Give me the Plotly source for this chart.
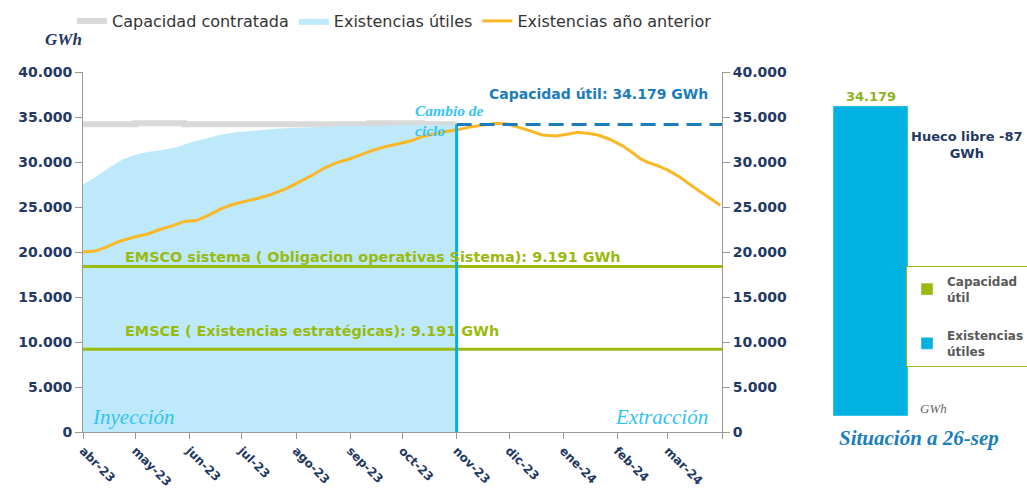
import plotly.graph_objects as go

# ---------------- data ----------------
prev_dates = ["2023-04-01","2023-04-08","2023-04-15","2023-04-22","2023-05-01","2023-05-08",
              "2023-05-15","2023-05-22","2023-05-29","2023-06-05","2023-06-12","2023-06-19",
              "2023-06-26","2023-07-03","2023-07-11","2023-07-18","2023-07-27","2023-08-03",
              "2023-08-10","2023-08-17","2023-08-24","2023-08-31","2023-09-07","2023-09-14",
              "2023-09-21","2023-09-28","2023-10-05","2023-10-12","2023-10-19","2023-10-26",
              "2023-11-02","2023-11-09","2023-11-16","2023-11-25","2023-12-01","2023-12-08",
              "2023-12-14","2023-12-20","2023-12-28","2024-01-04","2024-01-09","2024-01-15",
              "2024-01-21","2024-01-28","2024-02-04","2024-02-10","2024-02-14","2024-02-18",
              "2024-02-24","2024-03-01","2024-03-08","2024-03-15","2024-03-22","2024-03-31"]
prev_values = [20000,20100,20600,21200,21700,22000,
               22500,22900,23400,23500,24100,24800,
               25300,25600,26000,26400,27100,27800,
               28500,29300,29900,30300,30800,31300,
               31700,32000,32300,32800,33100,33400,
               33600,33900,34100,34300,34200,33800,
               33400,33000,32900,33100,33300,33200,
               33000,32500,31800,31000,30400,30000,
               29600,29100,28300,27300,26400,25200]

stock_dates = ["2023-04-01","2023-04-08","2023-04-16","2023-04-24","2023-05-01","2023-05-08",
               "2023-05-16","2023-05-24","2023-06-02","2023-06-10","2023-06-18","2023-06-28",
               "2023-07-08","2023-07-20","2023-08-01","2023-08-15","2023-09-01","2023-09-15",
               "2023-10-01","2023-10-15","2023-11-01"]
stock_values = [27500,28300,29400,30300,30800,31100,
                31300,31600,32200,32600,33000,33300,
                33500,33700,33800,33900,34000,34000,
                34100,34100,34100]

contract_dates = ["2023-04-01","2023-05-01","2023-05-29","2023-09-12","2023-10-12","2023-11-01"]
contract_values = [34200,34300,34200,34300,34200,34200]

cap_util = 34179
emsce = 9191
emsco_cum = 18382
cycle_change = "2023-11-01"
axis_start = "2023-04-01"
axis_end = "2024-04-01"

month_ticks = ["2023-04-01","2023-05-01","2023-06-01","2023-07-01","2023-08-01","2023-09-01",
               "2023-10-01","2023-11-01","2023-12-01","2024-01-01","2024-02-01","2024-03-01",
               "2024-04-01"]
month_labels = ["abr-23","may-23","jun-23","jul-23","ago-23","sep-23","oct-23","nov-23",
                "dic-23","ene-24","feb-24","mar-24",""]

y_ticks = [0,5000,10000,15000,20000,25000,30000,35000,40000]

bar_category = ["26-sep"]
bar_capacity = [34179]
bar_stock = [34266]
free_gap = -87

# ---------------- colours / fonts ----------------
NAVY = "#1f3864"
GREEN = "#9abb0e"
CYAN = "#00b2e2"
LIGHTBLUE = "#bde9fb"
ORANGE = "#fbb726"
GRAY = "#d9d9d9"
DASHBLUE = "#1b7dbd"
SANS = "DejaVu Sans"
SERIF = "Liberation Serif"

fig = go.Figure()

fig.add_trace(go.Scatter(x=contract_dates, y=contract_values, mode="lines", line_shape="hv",
                         line=dict(color=GRAY, width=6), name="Capacidad contratada"))
fig.add_trace(go.Scatter(x=stock_dates, y=stock_values, mode="lines", fill="tozeroy",
                         fillcolor=LIGHTBLUE, line=dict(color=LIGHTBLUE, width=0),
                         name="Existencias útiles"))
fig.add_trace(go.Scatter(x=prev_dates, y=prev_values, mode="lines",
                         line=dict(color=ORANGE, width=3), name="Existencias año anterior"))
fig.add_trace(go.Scatter(x=[axis_start, axis_end], y=[emsco_cum, emsco_cum], mode="lines",
                         line=dict(color=GREEN, width=3), showlegend=False, hoverinfo="skip"))
fig.add_trace(go.Scatter(x=[axis_start, axis_end], y=[emsce, emsce], mode="lines",
                         line=dict(color=GREEN, width=3), showlegend=False, hoverinfo="skip"))
fig.add_trace(go.Scatter(x=[cycle_change, cycle_change], y=[0, cap_util], mode="lines",
                         line=dict(color=CYAN, width=3), showlegend=False, hoverinfo="skip"))
fig.add_trace(go.Scatter(x=[cycle_change, axis_end], y=[cap_util, cap_util], mode="lines",
                         line=dict(color=DASHBLUE, width=3, dash="15px,8px"),
                         showlegend=False, hoverinfo="skip", yaxis="y3"))

# right-hand bar
fig.add_trace(go.Bar(x=bar_category, y=bar_capacity, marker=dict(color=GREEN), width=1,
                     name="Capacidad<br>útil", xaxis="x2", yaxis="y2", legend="legend2",
                     legendgroup="cap"))
fig.add_trace(go.Bar(x=bar_category, y=bar_stock, marker=dict(color=CYAN), width=1,
                     name="Existencias<br>útiles", xaxis="x2", yaxis="y2", legend="legend2",
                     legendgroup="stk"))

W, H = 1027, 488
def px(x):
    return x / W
def py(y):
    return 1 - y / H

tickfont = dict(family=SANS, size=14, color=NAVY, weight="bold")

fig.update_layout(
    width=W, height=H,
    margin=dict(l=0, r=0, t=0, b=0, autoexpand=False),
    paper_bgcolor="white", plot_bgcolor="white",
    separators=",.",
    barmode="overlay",
    showlegend=True,
    legend=dict(orientation="h", x=px(72), y=py(4), xanchor="left", yanchor="top",
                font=dict(family=SANS, size=16, color="#333333"),
                itemwidth=30, tracegroupgap=0, bgcolor="rgba(0,0,0,0)"),
    legend2=dict(x=px(906), y=py(266), xanchor="left", yanchor="top",
                 bordercolor=GREEN, borderwidth=1,
                 font=dict(family=SANS, size=12, color="#595959", weight="bold"),
                 itemwidth=30, tracegroupgap=20, bgcolor="white"),
    xaxis=dict(domain=[px(83), px(722)], type="date", range=[axis_start, axis_end],
               tickvals=month_ticks, ticktext=month_labels, tickangle=45,
               tickfont=dict(family=SANS, size=12, color=NAVY, weight="bold"),
               ticks="outside", ticklen=6, tickcolor="#999999",
               showline=True, linecolor="#999999", linewidth=1, showgrid=False,
               zeroline=False, automargin=False, anchor="y"),
    yaxis=dict(domain=[py(432), py(72)], range=[0, 40000], tickvals=y_ticks,
               tickformat=",.0f", tickfont=tickfont, ticks="outside", ticklen=7,
               tickcolor="#999999", showline=True, linecolor="#999999", linewidth=1,
               showgrid=False, zeroline=False, automargin=False, anchor="x"),
    yaxis3=dict(overlaying="y", side="right", range=[0, 40000], tickvals=y_ticks,
                tickformat=",.0f", tickfont=tickfont, ticks="outside", ticklen=7,
                tickcolor="#999999", showline=True, linecolor="#999999", linewidth=1,
                showgrid=False, zeroline=False, automargin=False, anchor="x"),
    xaxis2=dict(domain=[px(833), px(908)], range=[-0.5, 0.5], visible=False, anchor="y2"),
    yaxis2=dict(domain=[py(416), py(54)], range=[0, 40000], visible=False, anchor="x2"),
)

ann = []
def add(text, x, y, xref, yref, size, color, family=SANS, bold=True, italic=False,
        xanchor="left", yanchor="middle", align="left"):
    t = text
    if bold:
        t = "<b>" + t + "</b>"
    if italic:
        t = "<i>" + t + "</i>"
    ann.append(dict(text=t, x=x, y=y, xref=xref, yref=yref, showarrow=False,
                    xanchor=xanchor, yanchor=yanchor, align=align,
                    font=dict(family=family, size=size, color=color)))

add("GWh", px(43), py(40), "paper", "paper", 17, NAVY, family=SERIF, italic=True)
add("EMSCO sistema ( Obligacion operativas Sistema): 9.191 GWh", "2023-04-24", emsco_cum,
    "x", "y", 14.4, GREEN, yanchor="bottom")
ann[-1]["yshift"] = 0
add("EMSCE ( Existencias estratégicas): 9.191 GWh", "2023-04-24", emsce,
    "x", "y", 14.4, GREEN, yanchor="bottom")
ann[-1]["yshift"] = 8
add("Capacidad útil: 34.179 GWh", "2024-03-25", 37550, "x", "y", 14, DASHBLUE, xanchor="right")
add("Cambio de<br>ciclo", "2023-10-07", 36900, "x", "y", 15.5, "#35c4f2", family=SERIF,
    italic=True, yanchor="top")
add("Inyección", "2023-04-05", 1700, "x", "y", 21, "#33c3f2", family=SERIF, bold=False,
    italic=True)
add("Extracción", "2024-03-25", 1700, "x", "y", 21, "#33c3f2", family=SERIF, bold=False,
    italic=True, xanchor="right")

add("34.179", bar_category[0], bar_stock[0], "x2", "y2", 13, "#8db31e", xanchor="center",
    yanchor="bottom")
add("Hueco libre " + str(free_gap) + "<br>GWh", px(967), py(145), "paper", "paper", 13, NAVY,
    xanchor="center", align="center")
add("GWh", px(918), py(408), "paper", "paper", 13, "#666666", family=SERIF, bold=False,
    italic=True)
add("Situación a 26-sep", px(919), py(438), "paper", "paper", 21, "#1a7fbd", family=SERIF,
    italic=True, xanchor="center")

fig.update_layout(annotations=ann)

fig.write_html("out.html", config={"displayModeBar": False},
               post_script="document.body.style.margin='0';document.body.style.overflow='hidden';")
